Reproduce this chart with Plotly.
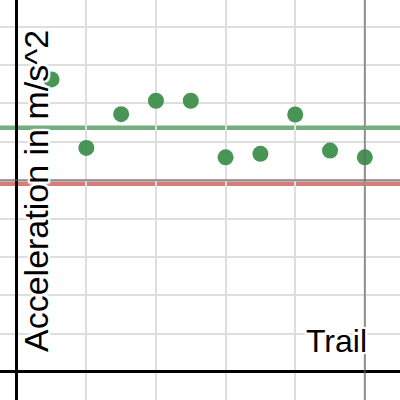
import plotly.graph_objects as go

trials = [1, 2, 3, 4, 5, 6, 7, 8, 9, 10]
accel = [15.25, 11.68, 13.44, 14.14, 14.14, 11.19, 11.37, 13.42, 11.54, 11.19]
mean_accel = sum(accel) / len(accel)
g_value = 9.81
ref_x = 10
ref_y = 10

x_label = "Trail"
y_label = "Acceleration in m/s^2"

fig = go.Figure()
fig.add_trace(go.Scatter(
    x=trials, y=accel, mode="markers",
    marker=dict(size=16, color="rgba(56,140,70,0.92)", line=dict(width=0)),
    hoverinfo="skip", showlegend=False,
))

halo = ", ".join(f"{dx}px {dy}px 1px white" for dx in (-2, 0, 2) for dy in (-2, 0, 2))

fig.update_layout(
    width=400, height=400,
    margin=dict(l=0, r=0, t=0, b=0),
    paper_bgcolor="white", plot_bgcolor="white",
    showlegend=False,
    xaxis=dict(range=[-0.48, 11.01], dtick=2, tick0=0, showticklabels=False,
               showgrid=True, gridcolor="#dedede", gridwidth=1.5,
               zeroline=True, zerolinecolor="black", zerolinewidth=3, fixedrange=True),
    yaxis=dict(range=[-1.46, 19.39], dtick=2, tick0=0, showticklabels=False,
               showgrid=True, gridcolor="#dedede", gridwidth=1.5,
               zeroline=True, zerolinecolor="black", zerolinewidth=3, fixedrange=True),
    shapes=[
        dict(type="line", xref="paper", x0=0, x1=1, yref="y", y0=g_value, y1=g_value,
             line=dict(color="#d87c79", width=4.5), layer="below"),
        dict(type="line", xref="paper", x0=0, x1=1, yref="y", y0=mean_accel, y1=mean_accel,
             line=dict(color="#74ae7e", width=4.5), layer="below"),
        dict(type="line", xref="paper", x0=0, x1=1, yref="y", y0=ref_y, y1=ref_y,
             line=dict(color="rgba(100,100,100,0.65)", width=2), layer="above"),
        dict(type="line", yref="paper", y0=0, y1=1, xref="x", x0=ref_x, x1=ref_x,
             line=dict(color="rgba(100,100,100,0.65)", width=2), layer="above"),
    ],
    annotations=[
        dict(text=y_label, xref="paper", yref="paper", x=0.09, y=0.5225,
             xanchor="center", yanchor="middle", textangle=-90, showarrow=False,
             font=dict(family="Liberation Sans, Arial", size=34, color="black", shadow=halo)),
        dict(text=x_label, xref="paper", yref="paper", x=336.5 / 400, y=1 - 341 / 400,
             xanchor="center", yanchor="middle", showarrow=False,
             font=dict(family="Liberation Sans, Arial", size=32, color="black", shadow=halo)),
    ],
)

fig.write_html("out.html", config={"displayModeBar": False},
               post_script="document.body.style.margin='0';")
